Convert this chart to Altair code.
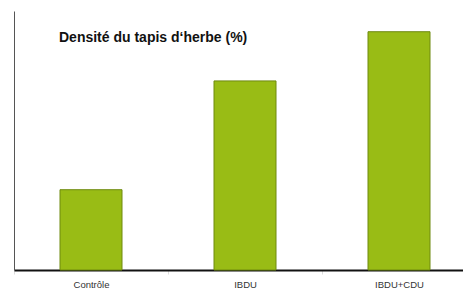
import altair as alt
import pandas as pd

categories = ["Contrôle", "IBDU", "IBDU+CDU"]
values = [31, 73, 92]
title_text = "Densité du tapis d‘herbe (%)"

df = pd.DataFrame({"cat": categories, "val": values})

base = alt.Chart(df)

bars = base.mark_bar(color="#99BC15", stroke="#6E8A0F", strokeWidth=1, size=62).encode(
    x=alt.X("cat:N", sort=categories, title=None,
            scale=alt.Scale(paddingInner=0, paddingOuter=0, range=[0, 462]),
            axis=alt.Axis(labelAngle=0, labelFont="Liberation Sans", labelFontSize=9.5,
                          labelColor="#333333", labelPadding=5, domainColor="#111111",
                          domainWidth=2, tickBand="extent", tickColor="#dddddd",
                          tickSize=4, grid=False)),
    y=alt.Y("val:Q", title=None, scale=alt.Scale(domain=[0, 100]),
            axis=alt.Axis(labels=False, ticks=False, grid=False, domainColor="#555555",
                          domainWidth=1)),
)

title = alt.Chart(pd.DataFrame({"t": [title_text]})).mark_text(
    align="left", baseline="alphabetic", font="Liberation Sans", fontSize=14,
    fontWeight="bold", color="#111111"
).encode(text="t:N", x=alt.value(45), y=alt.value(31))

chart = alt.layer(bars, title).properties(
    width=449, height=259,
    autosize=alt.AutoSizeParams(type="none"),
    padding={"left": 6, "top": 3, "right": 0, "bottom": 21},
).configure_view(stroke=None)

chart.save("out.html", embed_options={"renderer": "svg", "actions": False})
